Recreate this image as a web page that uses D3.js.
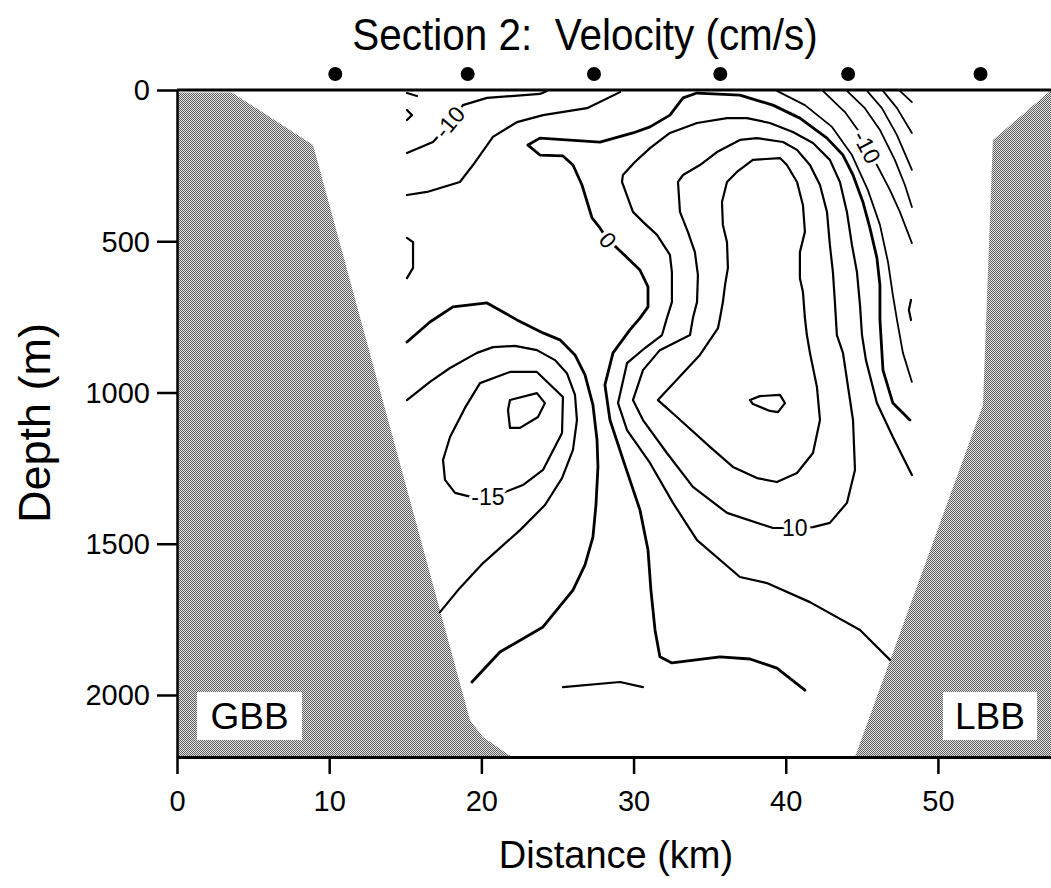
<!DOCTYPE html>
<html><head><meta charset="utf-8">
<script src="https://cdn.jsdelivr.net/npm/d3@7"></script>
<style>
html,body{margin:0;padding:0;background:#fff;}
svg{display:block;font-family:"Liberation Sans",Arial,Helvetica,sans-serif;}
</style></head><body>
<svg id="chart" width="1051" height="888"></svg>
<script>
// ---------- data (distance km, depth m) ----------
const title = "Section 2:  Velocity (cm/s)";
const xLabel = "Distance (km)";
const yLabel = "Depth (m)";
const xTicks = [0, 10, 20, 30, 40, 50];
const yTicks = [0, 500, 1000, 1500, 2000];
const stations = [10.4, 19.1, 27.4, 35.7, 44.1, 52.8];

const gbbBank = [[0,8],[3.6,8],[8.94,182],[19.25,2083],[20.1,2139],[22.0,2205],[0,2205]];
const lbbBank = [[57.43,0],[57.3,7],[53.61,165],[52.96,1041],[44.55,2205],[57.43,2205]];
const bankNames = ["GBB", "LBB"];

// contour polylines
const c0 = [[48.16,1091],[47.04,1035],[46.39,926],[46.19,760],[46.19,645],[45.99,555],[45.53,456],[45.07,370],[44.42,281],[43.76,215],[42.71,159],[40.93,93],[39.16,50],[36.99,17],[34.17,10],[33.25,26],[32.39,83],[31.08,122],[29.96,142],[27.79,172],[23.85,159],[23.06,182],[23.85,215],[25.36,218],[26.02,248],[26.61,314],[27.27,423],[27.79,456],[28.32,496],[28.91,522],[30.42,595],[30.95,651],[30.95,717],[30.42,754],[29.76,793],[28.65,869],[28.12,975],[28.45,1091],[29.43,1240],[30.42,1388],[30.95,1521],[31.14,1653],[31.41,1785],[31.73,1874],[32.52,1894],[35.68,1874],[37.65,1881],[39.42,1911],[41.26,1984]];
const cPos5 = [[48.29,1273],[47.04,1147],[45.99,1035],[45.27,893],[45.01,810],[44.88,711],[44.68,602],[44.35,512],[44.02,403],[43.56,304],[42.90,231],[41.79,175],[40.47,139],[38.96,109],[37.45,93],[36.14,93],[34.17,109],[32.39,142],[31.08,192],[30.09,238],[29.30,281],[29.24,304],[29.96,403],[30.62,436],[31.54,479],[32.39,545],[32.52,602],[32.52,701],[32.19,754],[31.87,810],[30.75,853],[29.57,903],[28.98,1035],[29.57,1124],[31.08,1233],[32.59,1365],[34.17,1488],[36.99,1610],[38.76,1630],[41.59,1693],[44.88,1785],[46.85,1884]];
const cPos10 = [[32.92,304],[33.25,281],[34.36,248],[35.48,205],[36.99,165],[38.11,159],[39.82,172],[40.74,198],[41.59,248],[42.25,314],[42.71,403],[42.90,512],[43.10,602],[43.23,701],[43.36,810],[43.76,869],[44.42,1091],[44.55,1256],[44.02,1365],[42.90,1431],[41.79,1445],[40.60,1448],[39.16,1448],[36.14,1398],[33.90,1312],[32.19,1200],[30.62,1091],[29.96,1025],[30.62,926],[31.73,860],[33.71,810],[33.90,754],[34.17,701],[34.23,612],[34.03,536],[33.57,469],[33.05,403],[32.92,304]];
const cPos15 = [[35.81,370],[36.14,304],[36.79,271],[37.84,231],[39.62,225],[40.08,248],[40.74,304],[41.13,380],[41.26,469],[40.93,536],[40.93,622],[41.13,668],[41.26,754],[41.39,810],[41.59,869],[42.05,982],[42.25,1091],[41.79,1200],[40.74,1266],[39.42,1296],[38.11,1283],[36.53,1246],[35.02,1180],[32.85,1081],[31.60,1025],[34.36,876],[35.55,787],[35.68,754],[35.87,701],[36.01,645],[36.20,588],[36.14,503],[35.87,446],[35.81,370]];
const cPos20 = [[37.65,1025],[38.30,1012],[39.62,1008],[39.95,1035],[39.49,1065],[38.96,1061],[37.84,1038],[37.65,1025]];
const cNeg5W = [[15.11,347],[16.43,337],[18.59,304],[19.45,248],[20.76,155],[22.34,106],[24.05,83],[26.94,60],[29.11,7]];
const cNeg10W = [[15.11,208],[16.82,172],[17.9,113],[18.79,50],[20.37,26],[23.85,13],[24.31,3]];
const cNeg5Eddy = [[15.11,833],[16.62,767],[18.13,717],[20.37,704],[22.34,760],[24.05,803],[25.16,826],[26.15,876],[26.81,942],[27.33,1041],[27.60,1157],[27.66,1246],[27.53,1372],[27.33,1478],[26.81,1570],[26.02,1653],[24.05,1775],[21.22,1858],[19.38,1957]];
const cNeg10Eddy = [[15.11,1025],[16.62,965],[17.94,919],[19.71,869],[20.76,850],[22.21,846],[23.65,860],[24.84,893],[25.62,936],[26.15,1008],[26.28,1091],[26.02,1190],[25.30,1283],[24.18,1372],[22.54,1455],[20.11,1564],[18.59,1646],[17.28,1726]];
const cNeg15Eddy = [[17.48,1223],[17.94,1147],[18.92,1051],[19.91,969],[21.88,932],[23.65,932],[25.36,1015],[25.30,1134],[24.05,1256],[22.73,1306],[21.55,1329],[20.57,1346],[19.38,1346],[18.27,1332],[17.61,1289],[17.48,1223]];
const cNeg20Eddy = [[21.88,1025],[23.65,1002],[24.18,1035],[23.72,1081],[22.54,1117],[21.88,1117],[21.75,1058],[21.88,1025]];
const cNeg5E = [[39.42,3],[41.26,50],[43.04,122],[44.35,215],[45.40,331],[46.19,446],[46.72,569],[47.04,678],[47.31,760],[47.70,869],[48.29,965]];
const cNeg10E = [[42.44,3],[43.89,73],[44.74,132],[45.34,188],[45.99,248],[46.85,331],[47.50,403],[48.29,506]];
const cNeg15E = [[44.02,3],[45.20,60],[46.19,132],[47.17,231],[47.83,314],[48.29,387]];
const cNeg20E = [[45.34,3],[46.32,60],[47.31,149],[48.29,264]];
const cNeg25E = [[46.39,3],[47.31,60],[48.29,142]];
const cNeg30E = [[47.50,3],[48.29,40]];
const cBits = [
  [[15.11,10],[15.77,20]],
  [[15.11,66],[15.44,83],[15.11,99]],
  [[15.11,489],[15.51,503],[15.51,588],[15.11,622]],
  [[25.36,1974],[29.11,1957],[30.62,1974]],
  [[48.23,694],[48.09,727],[48.23,760]]
];
const contourLabels = [
  {text:"-10", at:[17.9,106], angle:-50},
  {text:"0", at:[28.32,496], angle:50},
  {text:"-15", at:[20.43,1346], angle:0},
  {text:"10", at:[40.60,1448], angle:0},
  {text:"-10", at:[45.34,188], angle:62}
];

// ---------- drawing ----------
const svg = d3.select("#chart");
const x = d3.scaleLinear().domain([0, 57.43]).range([177, 1051]);
const y = d3.scaleLinear().domain([0, 2205]).range([90, 757]);
const line = d3.line().x(d => x(d[0])).y(d => y(d[1])).curve(d3.curveLinear);

const defs = svg.append("defs");
const pat = defs.append("pattern").attr("id","stip").attr("patternUnits","userSpaceOnUse")
  .attr("width",4).attr("height",4);
pat.append("rect").attr("width",4).attr("height",4).attr("fill","#e4e4e4").attr("shape-rendering","crispEdges");
[[0,0],[2,0],[1,1],[3,1],[0,2],[2,2],[1,3],[3,3]].forEach(p => {
  pat.append("rect").attr("x",p[0]).attr("y",p[1]).attr("width",1).attr("height",1)
    .attr("fill","#5e5e5e").attr("shape-rendering","crispEdges");
});

svg.append("text").attr("transform","translate(585,50) scale(0.92,1)").attr("text-anchor","middle")
  .attr("font-size",44).style("white-space","pre").text(title);

// banks
[gbbBank, lbbBank].forEach(b => {
  svg.append("path").attr("d", line(b) + "Z").attr("fill","url(#stip)").attr("stroke","none");
});

// contours
const gC = svg.append("g").attr("fill","none").attr("stroke","#000")
  .attr("stroke-linejoin","round").attr("stroke-linecap","round");
const thick = [c0, cNeg5Eddy];
const normal = [cPos5, cPos10, cPos15, cPos20, cNeg5W, cNeg10W, cNeg10Eddy, cNeg15Eddy, cNeg20Eddy];
const thin = [cNeg5E, cNeg10E, cNeg15E, cNeg20E, cNeg25E, cNeg30E];
thick.forEach(c => gC.append("path").attr("d", line(c)).attr("stroke-width",2.8));
normal.forEach(c => gC.append("path").attr("d", line(c)).attr("stroke-width",2.2));
thin.forEach(c => gC.append("path").attr("d", line(c)).attr("stroke-width",1.8));
cBits.forEach(c => gC.append("path").attr("d", line(c)).attr("stroke-width",2.2));

// contour labels
contourLabels.forEach(l => {
  svg.append("text")
    .attr("transform", `translate(${x(l.at[0])},${y(l.at[1])}) rotate(${l.angle})`)
    .attr("text-anchor","middle").attr("dy","0.36em")
    .attr("font-size",23)
    .attr("fill","#000").attr("stroke","#fff").attr("stroke-width",7)
    .attr("paint-order","stroke").attr("stroke-linejoin","round")
    .text(l.text);
});

// station dots
svg.append("g").selectAll("circle").data(stations).join("circle")
  .attr("cx", d => x(d)).attr("cy", y(0) - 16).attr("r", 7).attr("fill","#000");

// bank labels
const bankBoxes = [
  {name: bankNames[0], left: x(0) + 20, width: 105},
  {name: bankNames[1], left: x(57.43) - 108, width: 94}
];
bankBoxes.forEach(b => {
  const top = y(2205) - 65, h = 48;
  svg.append("rect").attr("x", b.left).attr("y", top).attr("width", b.width).attr("height", h).attr("fill","#fff");
  svg.append("text").attr("x", b.left + b.width/2).attr("y", top + h/2).attr("dy","0.36em")
    .attr("text-anchor","middle").attr("font-size",37).text(b.name);
});

// axes
const gY = svg.append("g").attr("transform", `translate(${x(0)},0)`)
  .call(d3.axisLeft(y).tickValues(yTicks).tickSize(20).tickSizeOuter(0).tickPadding(7).tickFormat(d3.format("d")));
gY.attr("font-size",29).attr("font-family",null);
gY.select(".domain").attr("stroke-width",2.5);
gY.selectAll(".tick line").attr("stroke-width",2.5);
gY.selectAll(".tick text").attr("dy","0.34em");

const gX = svg.append("g").attr("transform", `translate(0,${y(2205)})`)
  .call(d3.axisBottom(x).tickValues(xTicks).tickSize(17).tickSizeOuter(0).tickPadding(16));
gX.attr("font-size",29).attr("font-family",null);
gX.select(".domain").attr("stroke-width",3);
gX.selectAll(".tick line").attr("stroke-width",2.5);

svg.append("line").attr("x1", x(0)).attr("x2", x(57.43)).attr("y1", y(0)).attr("y2", y(0))
  .attr("stroke","#000").attr("stroke-width",3);

svg.append("text").attr("x",616).attr("y",868).attr("text-anchor","middle")
  .attr("font-size",38).text(xLabel);
svg.append("text").attr("transform","translate(50,423) rotate(-90)").attr("text-anchor","middle")
  .attr("font-size",45).text(yLabel);
</script>
</body></html>
